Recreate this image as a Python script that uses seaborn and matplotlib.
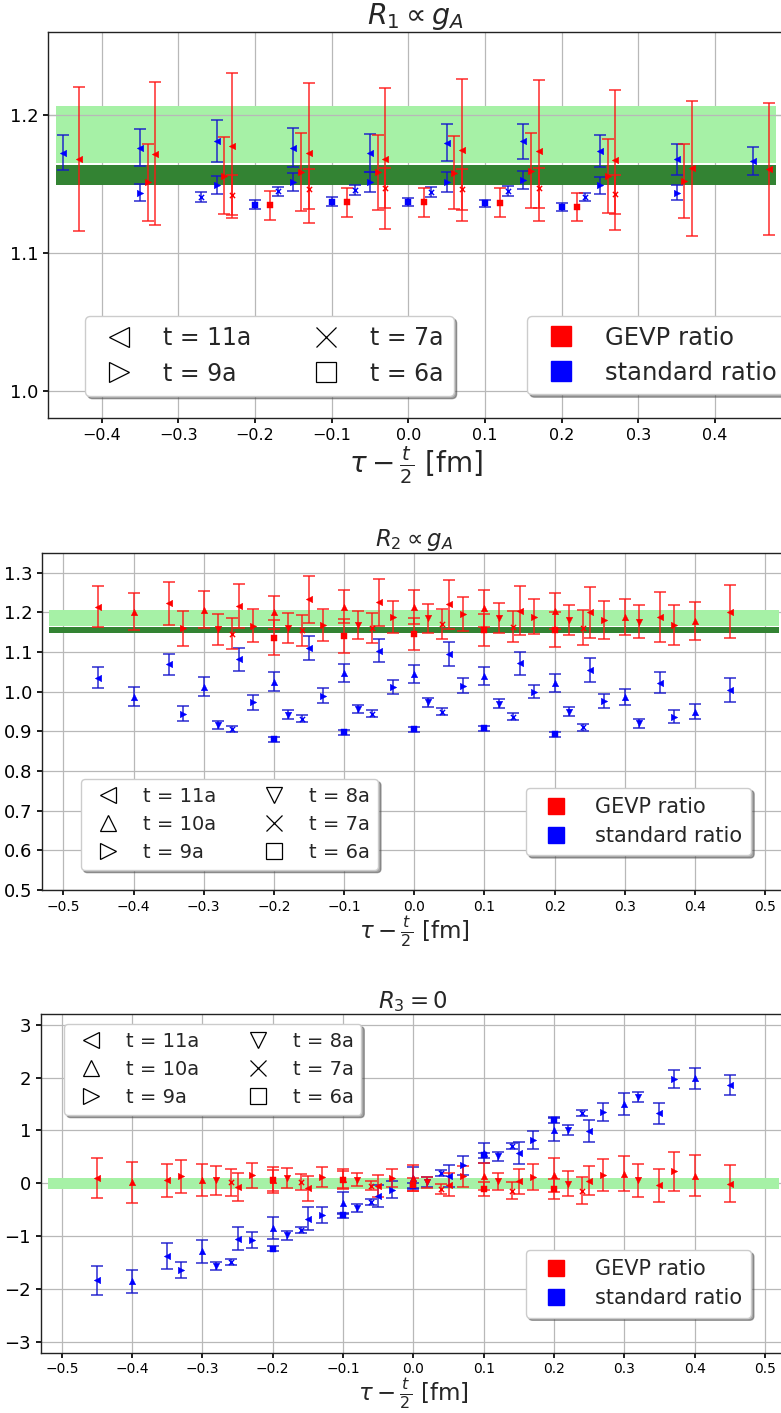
import numpy as np
import pandas as pd
import matplotlib
matplotlib.use("Agg")
import matplotlib.pyplot as plt
from matplotlib.lines import Line2D
import seaborn as sns

A_FM = 0.1  # lattice spacing [fm]

# ---------------- R1 (prop. to g_A) ----------------
R1_STD_T11 = [1.1725, 1.1758, 1.1809, 1.1761, 1.1722, 1.1797, 1.1807, 1.1737, 1.1676, 1.1664]
R1_STD_T11_ERR = [0.0128, 0.0134, 0.0151, 0.0144, 0.0135, 0.0133, 0.0126, 0.0118, 0.0114, 0.0103]
R1_STD_T9 = [1.1435, 1.1488, 1.1512, 1.1512, 1.1512, 1.1527, 1.1488, 1.1435]
R1_STD_T9_ERR = [0.0063, 0.0064, 0.0068, 0.0070, 0.0072, 0.0066, 0.0060, 0.0056]
R1_STD_T7 = [1.1403, 1.1444, 1.1452, 1.1440, 1.1447, 1.1403]
R1_STD_T7_ERR = [0.0033, 0.0034, 0.0037, 0.0035, 0.0034, 0.0030]
R1_STD_T6 = [1.1348, 1.1370, 1.1368, 1.1357, 1.1329]
R1_STD_T6_ERR = [0.0033, 0.0030, 0.0030, 0.0027, 0.0030]

R1_GEVP_T11 = [1.1680, 1.1717, 1.1775, 1.1725, 1.1681, 1.1742, 1.1739, 1.1674, 1.1611, 1.1604]
R1_GEVP_T11_ERR = [0.0520, 0.0517, 0.0523, 0.0507, 0.0508, 0.0514, 0.0512, 0.0507, 0.0490, 0.0480]
R1_GEVP_T9 = [1.1510, 1.1556, 1.1585, 1.1582, 1.1580, 1.1594, 1.1558, 1.1519]
R1_GEVP_T9_ERR = [0.0278, 0.0279, 0.0281, 0.0273, 0.0266, 0.0273, 0.0268, 0.0270]
R1_GEVP_T7 = [1.1420, 1.1459, 1.1470, 1.1459, 1.1469, 1.1423]
R1_GEVP_T7_ERR = [0.0145, 0.0145, 0.0145, 0.0147, 0.0144, 0.0140]
R1_GEVP_T6 = [1.1343, 1.1365, 1.1366, 1.1360, 1.1331]
R1_GEVP_T6_ERR = [0.0106, 0.0106, 0.0105, 0.0105, 0.0104]

# ---------------- R2 (prop. to g_A) ----------------
R2_STD_T11 = [1.0353, 1.0689, 1.0815, 1.1092, 1.1025, 1.0950, 1.0714, 1.0546, 1.0227, 1.0042]
R2_STD_T11_ERR = [0.0260, 0.0265, 0.0286, 0.0300, 0.0290, 0.0298, 0.0294, 0.0294, 0.0273, 0.0294]
R2_STD_T10 = [0.9874, 1.0126, 1.0252, 1.0462, 1.0445, 1.0395, 1.0210, 0.9874, 0.9496]
R2_STD_T10_ERR = [0.0244, 0.0244, 0.0240, 0.0227, 0.0230, 0.0223, 0.0227, 0.0202, 0.0185]
R2_STD_T9 = [0.9437, 0.9731, 0.9899, 1.0126, 1.0151, 1.0000, 0.9765, 0.9370]
R2_STD_T9_ERR = [0.0189, 0.0189, 0.0189, 0.0176, 0.0189, 0.0172, 0.0176, 0.0160]
R2_STD_T8 = [0.9160, 0.9412, 0.9563, 0.9731, 0.9689, 0.9496, 0.9202]
R2_STD_T8_ERR = [0.0110, 0.0113, 0.0110, 0.0113, 0.0113, 0.0118, 0.0113]
R2_STD_T7 = [0.9059, 0.9311, 0.9437, 0.9496, 0.9370, 0.9101]
R2_STD_T7_ERR = [0.0084, 0.0088, 0.0088, 0.0092, 0.0092, 0.0088]
R2_STD_T6 = [0.8798, 0.8975, 0.9050, 0.9076, 0.8924]
R2_STD_T6_ERR = [0.0063, 0.0067, 0.0067, 0.0063, 0.0063]

R2_GEVP_T11 = [1.2143, 1.2227, 1.2160, 1.2328, 1.2252, 1.2202, 1.2042, 1.2000, 1.1891, 1.2017]
R2_GEVP_T11_ERR = [0.0513, 0.0538, 0.0559, 0.0592, 0.0592, 0.0613, 0.0618, 0.0643, 0.0630, 0.0664]
R2_GEVP_T10 = [1.2017, 1.2059, 1.2000, 1.2143, 1.2143, 1.2101, 1.2034, 1.1874, 1.1782]
R2_GEVP_T10_ERR = [0.0470, 0.0466, 0.0420, 0.0420, 0.0429, 0.0462, 0.0454, 0.0454, 0.0483]
R2_GEVP_T9 = [1.1597, 1.1664, 1.1681, 1.1891, 1.1958, 1.1891, 1.1807, 1.1681]
R2_GEVP_T9_ERR = [0.0445, 0.0424, 0.0403, 0.0403, 0.0429, 0.0441, 0.0470, 0.0496]
R2_GEVP_T8 = [1.1571, 1.1613, 1.1681, 1.1849, 1.1849, 1.1807, 1.1765]
R2_GEVP_T8_ERR = [0.0390, 0.0378, 0.0357, 0.0366, 0.0378, 0.0380, 0.0424]
R2_GEVP_T7 = [1.1462, 1.1546, 1.1597, 1.1706, 1.1639, 1.1613]
R2_GEVP_T7_ERR = [0.0400, 0.0387, 0.0378, 0.0378, 0.0390, 0.0437]
R2_GEVP_T6 = [1.1361, 1.1403, 1.1454, 1.1555, 1.1555]
R2_GEVP_T6_ERR = [0.0445, 0.0430, 0.0400, 0.0410, 0.0440]

# ---------------- R3 (= 0) ----------------
R3_STD_T11 = [-1.830, -1.377, -1.044, -0.667, -0.245, 0.132, 0.572, 0.981, 1.327, 1.849]
R3_STD_T11_ERR = [0.274, 0.245, 0.220, 0.214, 0.210, 0.207, 0.210, 0.207, 0.200, 0.189]
R3_STD_T10 = [-1.849, -1.283, -0.843, -0.371, 0.100, 0.572, 1.013, 1.497, 1.987]
R3_STD_T10_ERR = [0.214, 0.214, 0.204, 0.214, 0.214, 0.195, 0.220, 0.214, 0.195]
R3_STD_T9 = [-1.642, -1.075, -0.604, -0.119, 0.340, 0.824, 1.346, 1.975]
R3_STD_T9_ERR = [0.148, 0.154, 0.154, 0.167, 0.173, 0.173, 0.173, 0.167]
R3_STD_T8 = [-1.566, -0.981, -0.465, 0.019, 0.509, 1.013, 1.629]
R3_STD_T8_ERR = [0.080, 0.085, 0.080, 0.094, 0.085, 0.094, 0.088]
R3_STD_T7 = [-1.484, -0.887, -0.352, 0.195, 0.711, 1.327]
R3_STD_T7_ERR = [0.053, 0.060, 0.050, 0.060, 0.053, 0.050]
R3_STD_T6 = [-1.233, -0.604, -0.044, 0.528, 1.201]
R3_STD_T6_ERR = [0.047, 0.047, 0.047, 0.053, 0.053]

R3_GEVP_T11 = [0.094, 0.057, -0.069, -0.094, -0.044, -0.025, 0.038, 0.050, -0.038, -0.006]
R3_GEVP_T11_ERR = [0.377, 0.314, 0.267, 0.236, 0.210, 0.220, 0.240, 0.277, 0.305, 0.346]
R3_GEVP_T10 = [0.019, 0.069, 0.069, 0.082, 0.100, 0.130, 0.164, 0.182, 0.145]
R3_GEVP_T10_ERR = [0.384, 0.305, 0.245, 0.195, 0.250, 0.250, 0.320, 0.336, 0.384]
R3_GEVP_T9 = [0.132, 0.151, 0.120, 0.100, 0.132, 0.120, 0.151, 0.226]
R3_GEVP_T9_ERR = [0.314, 0.242, 0.186, 0.170, 0.200, 0.240, 0.300, 0.365]
R3_GEVP_T8 = [0.057, 0.100, 0.069, 0.019, 0.038, -0.006, 0.057]
R3_GEVP_T8_ERR = [0.280, 0.190, 0.126, 0.110, 0.160, 0.236, 0.314]
R3_GEVP_T7 = [0.019, 0.019, -0.044, -0.107, -0.138, -0.138]
R3_GEVP_T7_ERR = [0.255, 0.154, 0.090, 0.100, 0.167, 0.250]
R3_GEVP_T6 = [0.060, 0.069, -0.025, -0.107, -0.107]
R3_GEVP_T6_ERR = [0.200, 0.157, 0.120, 0.140, 0.190]

# fit bands (lower, upper)
GA_BAND_WIDE = (1.1652, 1.2063)
GA_BAND_NARROW = (1.1488, 1.1633)
ZERO_BAND = (-0.10, 0.10)

T_LABELS = {11: "t = 11a", 10: "t = 10a", 9: "t = 9a", 8: "t = 8a", 7: "t = 7a", 6: "t = 6a"}
RATIO_LABELS = {"gevp": "GEVP ratio", "std": "standard ratio"}

# ---------------------------------------------------------------------------
MARKERS = {11: "<", 10: "^", 9: ">", 8: "v", 7: "x", 6: "s"}
MARKER_COLOR = {"gevp": "#ff0000", "std": "#0000ff"}
BAR_COLOR = {"gevp": "#ff1414", "std": "#1414cc"}

# horizontal dodge of the series, per panel, ratio and t
DODGE = {
    1: {"std": {11: 0.0, 9: 0.0, 7: -0.02, 6: 0.0},
        "gevp": {11: 0.02, 9: 0.01, 7: 0.02, 6: 0.02}},
    2: {r: {11: 0.0, 10: 0.0, 9: 0.02, 8: 0.02, 7: -0.01, 6: 0.0} for r in ("std", "gevp")},
    3: {r: {11: 0.0, 10: 0.0, 9: 0.02, 8: 0.02, 7: -0.01, 6: 0.0} for r in ("std", "gevp")},
}

SERIES = {
    (1, "std", 11): (R1_STD_T11, R1_STD_T11_ERR), (1, "std", 9): (R1_STD_T9, R1_STD_T9_ERR),
    (1, "std", 7): (R1_STD_T7, R1_STD_T7_ERR), (1, "std", 6): (R1_STD_T6, R1_STD_T6_ERR),
    (1, "gevp", 11): (R1_GEVP_T11, R1_GEVP_T11_ERR), (1, "gevp", 9): (R1_GEVP_T9, R1_GEVP_T9_ERR),
    (1, "gevp", 7): (R1_GEVP_T7, R1_GEVP_T7_ERR), (1, "gevp", 6): (R1_GEVP_T6, R1_GEVP_T6_ERR),
    (2, "std", 11): (R2_STD_T11, R2_STD_T11_ERR), (2, "std", 10): (R2_STD_T10, R2_STD_T10_ERR),
    (2, "std", 9): (R2_STD_T9, R2_STD_T9_ERR), (2, "std", 8): (R2_STD_T8, R2_STD_T8_ERR),
    (2, "std", 7): (R2_STD_T7, R2_STD_T7_ERR), (2, "std", 6): (R2_STD_T6, R2_STD_T6_ERR),
    (2, "gevp", 11): (R2_GEVP_T11, R2_GEVP_T11_ERR), (2, "gevp", 10): (R2_GEVP_T10, R2_GEVP_T10_ERR),
    (2, "gevp", 9): (R2_GEVP_T9, R2_GEVP_T9_ERR), (2, "gevp", 8): (R2_GEVP_T8, R2_GEVP_T8_ERR),
    (2, "gevp", 7): (R2_GEVP_T7, R2_GEVP_T7_ERR), (2, "gevp", 6): (R2_GEVP_T6, R2_GEVP_T6_ERR),
    (3, "std", 11): (R3_STD_T11, R3_STD_T11_ERR), (3, "std", 10): (R3_STD_T10, R3_STD_T10_ERR),
    (3, "std", 9): (R3_STD_T9, R3_STD_T9_ERR), (3, "std", 8): (R3_STD_T8, R3_STD_T8_ERR),
    (3, "std", 7): (R3_STD_T7, R3_STD_T7_ERR), (3, "std", 6): (R3_STD_T6, R3_STD_T6_ERR),
    (3, "gevp", 11): (R3_GEVP_T11, R3_GEVP_T11_ERR), (3, "gevp", 10): (R3_GEVP_T10, R3_GEVP_T10_ERR),
    (3, "gevp", 9): (R3_GEVP_T9, R3_GEVP_T9_ERR), (3, "gevp", 8): (R3_GEVP_T8, R3_GEVP_T8_ERR),
    (3, "gevp", 7): (R3_GEVP_T7, R3_GEVP_T7_ERR), (3, "gevp", 6): (R3_GEVP_T6, R3_GEVP_T6_ERR),
}

rows = []
for (panel, ratio, t), (vals, errs) in SERIES.items():
    tau = np.arange(1, t)
    x = (tau - t / 2.0) * A_FM
    for xi, v, e in zip(x, vals, errs):
        rows.append(dict(panel=panel, ratio=ratio, t=t, x=xi,
                         xplot=xi + DODGE[panel][ratio][t], y=v, err=e))
df = pd.DataFrame(rows)

# ---------------------------------------------------------------------------
sns.set_theme(style="ticks", rc={
    "axes.edgecolor": "#222222", "axes.linewidth": 1.0,
    "grid.color": "#b8b8b8", "grid.linewidth": 0.9,
    "xtick.major.size": 3.5, "ytick.major.size": 3.5,
    "xtick.color": "black", "ytick.color": "black",
})
plt.rcParams["font.family"] = ["DejaVu Sans"]
plt.rcParams["mathtext.fontset"] = "dejavusans"

W, H = 781, 1413
fig = plt.figure(figsize=(W / 100, H / 100), dpi=100)


def px_rect(left, top, right, bottom):
    return [left / W, 1 - bottom / H, (right - left) / W, (bottom - top) / H]


def fmt_tick(v, digits):
    s = f"{round(float(v), digits) + 0.0:.{digits}f}"
    if float(s) == 0:
        s = s.lstrip("-")
    return s.replace("-", "\u2212")


PANELS = {
    1: dict(rect=(47.9, 31.7, 784.0, 418.3), xlim=(-0.47, 0.49), ylim=(0.98, 1.26),
            xticks=np.round(np.arange(-0.4, 0.41, 0.1), 1), yticks=[1.0, 1.1, 1.2], ydig=1,
            title=r"$R_1 \propto g_A$", title_fs=20.5, title_pad=4.5,
            xfs=11.5, yfs=13, label_fs=20, labelpad=1,
            ts=[11, 9, 7, 6], band_x=(-0.46, 0.48)),
    2: dict(rect=(42.3, 552.7, 786.3, 890.0), xlim=(-0.53, 0.53), ylim=(0.5, 1.35),
            xticks=np.round(np.arange(-0.5, 0.51, 0.1), 1),
            yticks=np.round(np.arange(0.5, 1.31, 0.1), 1), ydig=1,
            title=r"$R_2 \propto g_A$", title_fs=16.5, title_pad=3,
            xfs=10, yfs=13, label_fs=16.5, labelpad=0,
            ts=[11, 10, 9, 8, 7, 6], band_x=(-0.52, 0.52)),
    3: dict(rect=(40.7, 1014.0, 786.0, 1352.7), xlim=(-0.53, 0.53), ylim=(-3.2, 3.2),
            xticks=np.round(np.arange(-0.5, 0.51, 0.1), 1),
            yticks=np.arange(-3, 4, 1), ydig=0,
            title=r"$R_3 = 0$", title_fs=16.5, title_pad=4,
            xfs=10, yfs=13, label_fs=16.5, labelpad=0,
            ts=[11, 10, 9, 8, 7, 6], band_x=(-0.52, 0.52)),
}

# legend placement (figure pixels of the upper-left frame corner) and sizing
LEGEND_STYLE = {
    1: dict(t_leg=dict(fs=17, anchor=(85, 316), ms=15, handlelength=2.0, handletextpad=0.86,
                       columnspacing=2.19, labelspacing=0.49, borderpad=0.43),
            c_leg=dict(fs=17.5, anchor=(527, 316), ms=14.2, handlelength=1.99, handletextpad=0.81,
                       labelspacing=0.44, borderpad=0.405)),
    2: dict(t_leg=dict(fs=14, anchor=(80.7, 779), ms=12, handlelength=1.95, handletextpad=0.82,
                       columnspacing=2.04, labelspacing=0.46, borderpad=0.41),
            c_leg=dict(fs=15, anchor=(526, 787.7), ms=12.2, handlelength=2.0, handletextpad=0.875,
                       labelspacing=0.44, borderpad=0.44)),
    3: dict(t_leg=dict(fs=14, anchor=(64, 1024), ms=12, handlelength=1.95, handletextpad=0.82,
                       columnspacing=2.04, labelspacing=0.46, borderpad=0.41),
            c_leg=dict(fs=15, anchor=(525.7, 1250), ms=12.2, handlelength=2.0, handletextpad=0.875,
                       labelspacing=0.44, borderpad=0.44)),
}


def add_legend(ax, handles, labels, st, ncol=1):
    return ax.legend(handles, labels, ncol=ncol, loc="upper left",
                     bbox_to_anchor=(st["anchor"][0] / W, 1 - st["anchor"][1] / H),
                     bbox_transform=fig.transFigure, borderaxespad=0,
                     fontsize=st["fs"], shadow=True, fancybox=True, framealpha=1,
                     handlelength=st["handlelength"], handletextpad=st["handletextpad"],
                     labelspacing=st["labelspacing"], borderpad=st["borderpad"],
                     columnspacing=st.get("columnspacing", 2.0))


for panel, cfg in PANELS.items():
    ax = fig.add_axes(px_rect(*cfg["rect"]))
    ax.set_xlim(*cfg["xlim"])
    ax.set_ylim(*cfg["ylim"])
    ax.set_xticks(cfg["xticks"])
    ax.set_yticks(cfg["yticks"])
    ax.set_axisbelow(True)
    ax.grid(True, zorder=0)

    bx = np.array(cfg["band_x"])
    if panel in (1, 2):
        ax.fill_between(bx, *GA_BAND_WIDE, color="#a6f1a6", lw=0, zorder=1)
        ax.fill_between(bx, *GA_BAND_NARROW, color="#338333", lw=0, zorder=1.1)
        if panel == 1:
            ax.axhline(1.2, color="#b8b8b8", lw=0.9, zorder=1.2)
    else:
        ax.fill_between(bx, *ZERO_BAND, color="#a6f1a6", lw=0, zorder=1)

    sub = df[df.panel == panel]
    for ratio in ("std", "gevp"):
        for t in cfg["ts"]:
            s = sub[(sub.ratio == ratio) & (sub.t == t)]
            ax.errorbar(s.xplot, s.y, yerr=s.err, fmt="none", ecolor=BAR_COLOR[ratio],
                        elinewidth=1.1, capsize=4.5, capthick=1.1, alpha=0.9, zorder=3)
            kw = dict(color=MARKER_COLOR[ratio], marker=MARKERS[t], s=22, ax=ax,
                      legend=False, zorder=4)
            if MARKERS[t] == "x":
                kw.update(s=14, linewidth=1.0)
            else:
                kw.update(edgecolor=MARKER_COLOR[ratio], linewidth=0.3)
            sns.scatterplot(data=s, x="xplot", y="y", **kw)

    ax.set_title(cfg["title"], fontsize=cfg["title_fs"], pad=cfg["title_pad"])
    ax.set_xlabel(r"$\tau - \frac{t}{2}$ [fm]", fontsize=cfg["label_fs"], labelpad=cfg["labelpad"])
    ax.set_ylabel("")
    ax.tick_params(axis="x", labelsize=cfg["xfs"])
    ax.tick_params(axis="y", labelsize=cfg["yfs"])
    ax.set_xticklabels([fmt_tick(v, 1) for v in cfg["xticks"]])
    ax.set_yticklabels([fmt_tick(v, cfg["ydig"]) for v in cfg["yticks"]])

    ls = LEGEND_STYLE[panel]
    t_handles = [Line2D([], [], ls="none", marker=MARKERS[t], mfc="none", mec="black",
                        color="black", ms=ls["t_leg"]["ms"], mew=0.9) for t in cfg["ts"]]
    leg1 = add_legend(ax, t_handles, [T_LABELS[t] for t in cfg["ts"]], ls["t_leg"], ncol=2)
    ax.add_artist(leg1)
    c_handles = [Line2D([], [], ls="none", marker="s", color=MARKER_COLOR[r], ms=ls["c_leg"]["ms"])
                 for r in ("gevp", "std")]
    add_legend(ax, c_handles, [RATIO_LABELS[r] for r in ("gevp", "std")], ls["c_leg"])

fig.savefig("out.png", dpi=100)
